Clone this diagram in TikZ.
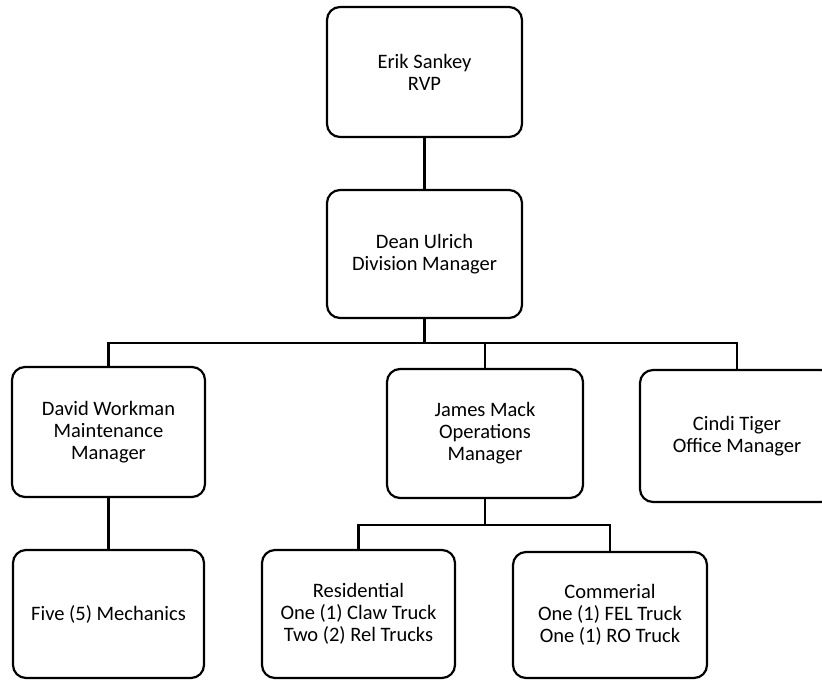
\documentclass[tikz,border=0pt]{standalone}
\usepackage{fontspec}
\setmainfont{Carlito}
\begin{document}
\begin{tikzpicture}[x=1pt,y=-1pt,
  orgbox/.style={draw=black, line width=2.2pt, rounded corners=13pt, align=center,
    inner sep=0pt, font=\fontsize{20.5}{22}\selectfont},
  link/.style={draw=black, line width=2.2pt}]
\clip (0,0) rectangle (822,680);
\fill[white] (0,0) rectangle (822,680);
\node[orgbox, minimum width=195pt, minimum height=130pt] (erik) at (424.5,72) {Erik Sankey\\RVP};
\node[orgbox, minimum width=195pt, minimum height=128pt] (dean) at (424.5,254) {Dean Ulrich\\Division Manager};
\node[orgbox, minimum width=193pt, minimum height=130pt] (david) at (108.5,432) {David Workman\\Maintenance\\Manager};
\node[orgbox, minimum width=196pt, minimum height=129pt] (james) at (485,433.5) {James Mack\\Operations\\Manager};
\node[orgbox, minimum width=194pt, minimum height=132pt] (cindi) at (737,436) {Cindi Tiger\\Office Manager};
\node[orgbox, minimum width=191pt, minimum height=128pt] (mech) at (108.5,614) {Five (5) Mechanics};
\node[orgbox, minimum width=193pt, minimum height=128pt] (res) at (358.5,614) {Residential\\One (1) Claw Truck\\Two (2) Rel Trucks};
\node[orgbox, minimum width=194pt, minimum height=126pt] (com) at (610,615) {Commerial\\One (1) FEL Truck\\One (1) RO Truck};
\coordinate (bus) at (0,343);
\coordinate (subbus) at (0,525);
\draw[link] (erik.south) -- (dean.north);
\draw[link] (dean.south) -- (dean.south |- bus);
\draw[link] (david.north) -- (david.north |- bus) -- (cindi.north |- bus) -- (cindi.north);
\draw[link] (james.north) -- (james.north |- bus);
\draw[link] (david.south) -- (mech.north);
\draw[link] (james.south) -- (james.south |- subbus);
\draw[link] (res.north) -- (res.north |- subbus) -- (com.north |- subbus) -- (com.north);
\end{tikzpicture}
\end{document}
